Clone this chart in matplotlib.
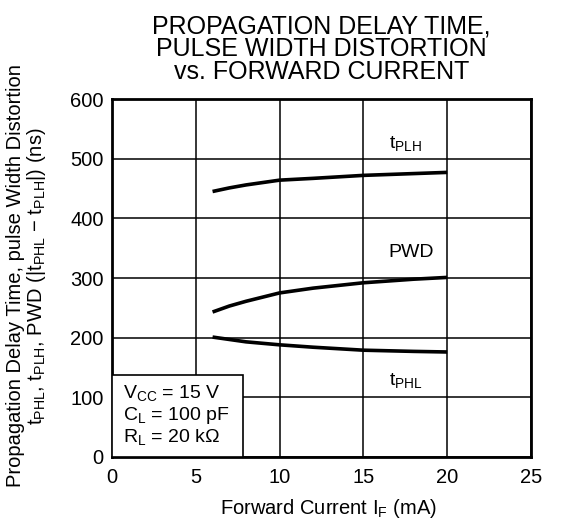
import matplotlib
matplotlib.use("Agg")
import matplotlib.pyplot as plt
from matplotlib.patches import Rectangle

plt.rcParams['font.family'] = ['Liberation Sans', 'DejaVu Sans']
plt.rcParams['mathtext.fontset'] = 'custom'
plt.rcParams['mathtext.rm'] = 'Liberation Sans'
plt.rcParams['mathtext.it'] = 'Liberation Sans'
plt.rcParams['mathtext.bf'] = 'Liberation Sans'

if_ma = [6, 7, 8, 10, 12, 15, 18, 20]
t_plh = [445, 451, 456, 464, 467, 472, 475, 477]
pwd = [243, 253, 261, 275, 283, 292, 298, 301]
t_phl = [201, 197, 193, 188, 184, 179, 177, 176]

fig = plt.figure(figsize=(5.61, 5.21), dpi=100)
ax = fig.add_axes([112/561, 1-457/521, (531-112)/561, (457-99)/521])

for y in [t_plh, pwd, t_phl]:
    ax.plot(if_ma, y, color='black', lw=2.6, solid_capstyle='butt', zorder=3)

ax.set_xlim(0, 25)
ax.set_ylim(0, 600)
ax.set_xticks(range(0, 26, 5))
ax.set_yticks(range(0, 601, 100))
ax.grid(True, color='black', lw=1.1)
ax.tick_params(length=0, labelsize=14.5)
ax.tick_params(axis='x', pad=8)
ax.tick_params(axis='y', pad=6)
for s in ax.spines.values():
    s.set_linewidth(2)

ax.text(16.5, 526, r'$\mathrm{t_{PLH}}$', fontsize=14, va='center')
ax.text(16.5, 342, 'PWD', fontsize=14, va='center')
ax.text(16.5, 129, r'$\mathrm{t_{PHL}}$', fontsize=14, va='center')

ax.add_patch(Rectangle((0, 0), 7.8, 137, facecolor='white', edgecolor='black', lw=1.2, zorder=4))
ax.text(0.66, 107, r'$\mathrm{V_{CC}}$ = 15 V', fontsize=14, va='center', zorder=5)
ax.text(0.66, 69, r'$\mathrm{C_{L}}$ = 100 pF', fontsize=14, va='center', zorder=5)
ax.text(0.66, 33, r'$\mathrm{R_{L}}$ = 20 k$\mathrm{\Omega}$', fontsize=14, va='center', zorder=5)

ax.set_xlabel(r'Forward Current $\mathrm{I_{F}}$ (mA)', fontsize=14.5)
ax.xaxis.set_label_coords(0.516, -0.113)
ax.xaxis.label.set_va('top')
ax.set_ylabel('Propagation Delay Time, pulse Width Distortion\n'
              r'$\mathrm{t_{PHL}}$, $\mathrm{t_{PLH}}$, PWD (|$\mathrm{t_{PHL}}$ − $\mathrm{t_{PLH}}$|) (ns)',
              fontsize=14.5, linespacing=0.95)
ax.yaxis.set_label_coords(-0.203, 0.506)
ax.yaxis.label.set_va('center')
ax.set_title('PROPAGATION DELAY TIME,\nPULSE WIDTH DISTORTION\nvs. FORWARD CURRENT',
             fontsize=18, pad=14.5, linespacing=0.92)

fig.savefig('out.png', dpi=100)
